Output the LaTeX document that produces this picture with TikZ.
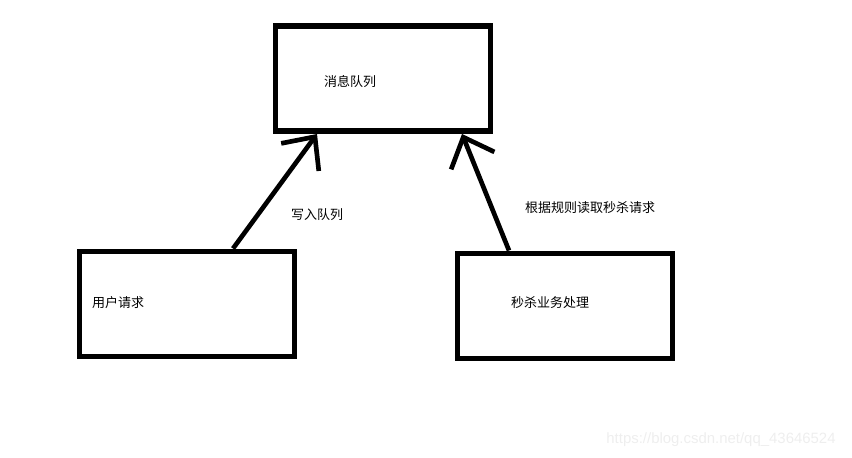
\documentclass[tikz,border=0pt]{standalone}
\usepackage{fontspec}
\newfontfamily\cjk{Noto Sans CJK SC}
\newfontfamily\wmfont{Liberation Sans}
\usetikzlibrary{arrows.meta}

\begin{document}
\begin{tikzpicture}[x=0.75pt,y=-0.75pt,
   box/.style={draw,line width=4.2pt,minimum width=161pt,minimum height=79pt,inner sep=0pt},
   txt/.style={font=\cjk\fontsize{9.75}{12}\selectfont,inner sep=0pt},
   push/.style={line width=3.5pt,-{Straight Barb[length=19pt,width=35pt]}}]
   \useasboundingbox (0,0) rectangle (852,457);
   % boxes
   \node[box] (queue) at (383,78.5) {};
   \node[box] (user) at (187,304) {};
   \node[box] (kill) at (565,306) {};
   \node[txt] (queue_t) at (350,82) {消息队列};
   \node[txt] (user_t) at (118,303) {用户请求};
   \node[txt] (kill_t) at (550,303) {秒杀业务处理};
   % arrows
   \draw[push] (233,0 |- user.north) -- (317,0 |- queue.south);
   \draw[push] (509,0 |- kill.north) -- (462,0 |- queue.south);
   \node[txt] (write_t) at (317,215) {写入队列};
   \node[txt] (read_t) at (590,208) {根据规则读取秒杀请求};
   \node[font=\wmfont\fontsize{11.2}{13}\selectfont,text=gray!13,inner sep=0pt] (mark) at (721,440) {https://blog.csdn.net/qq\_43646524};
\end{tikzpicture}
\end{document}
